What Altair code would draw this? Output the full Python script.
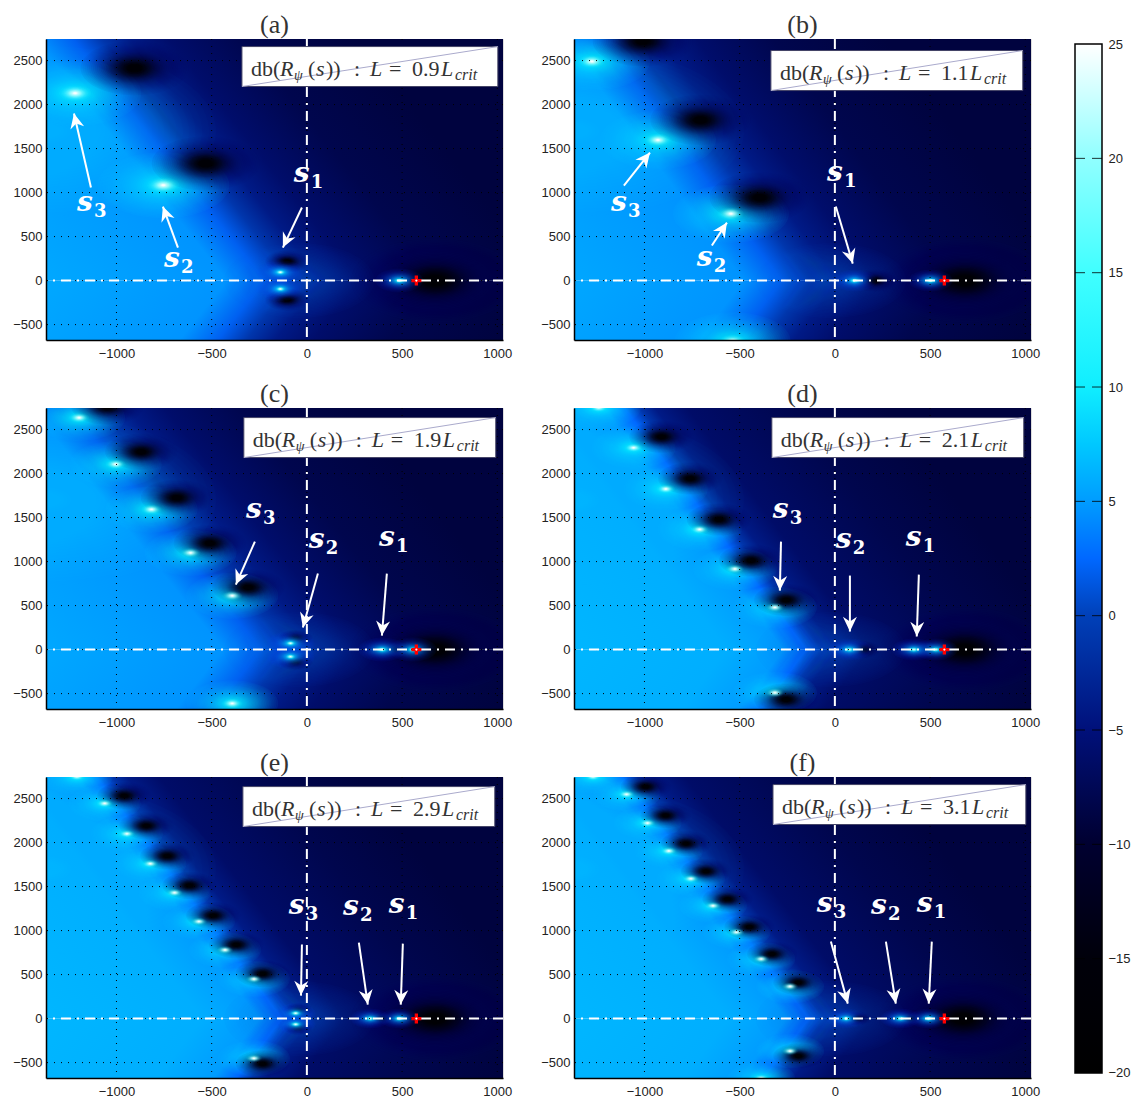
import math
import altair as alt
import pandas as pd

XMIN, XMAX = -1370, 1030
YMIN, YMAX = -675, 2745
PW, PH = 457, 301
PXX, PXY = PW / (XMAX - XMIN), PH / (YMAX - YMIN)
XTICKS = [-1000, -500, 0, 500, 1000]
YTICKS = [-500, 0, 500, 1000, 1500, 2000, 2500]
CROSS_X = 575

CMAP_V = [-20, -15, -10, -5, 0, 2.5, 5, 7.5, 10, 15, 20, 25]
CMAP_C = ["#000000", "#00000a", "#000030", "#00107a", "#0040b8", "#0068ff",
          "#009cff", "#00c8ff", "#10eeff", "#40ffff", "#90ffff", "#ffffff"]
CBAR_TICKS = [-20, -15, -10, -5, 0, 5, 10, 15, 20, 25]

SOFT_D = [-1300, -700, -300, -100, 50, 200, 400, 1300]
SOFT_V = [-9, -8, -6, -4, -1, 2, 4.6, 5.6]
SHARP_D = [-1300, -800, -250, -80, 0, 80, 200, 500, 1300]
SHARP_V = [-9, -8, -6.2, -4, -1, 2.5, 5, 6, 6.5]

TITLES = ["(a)", "(b)", "(c)", "(d)", "(e)", "(f)"]
RATIOS = ["0.9", "1.1", "1.9", "2.1", "2.9", "3.1"]
BOUND_X = [-20, -80, -40, -70, -50, -55]
BOUND_K = [-0.367, -0.345, -0.366, -0.348, -0.355, -0.358]
STOP_SET = ["soft", "soft", "soft", "sharp", "sharp", "sharp"]
GLOW_RX = [66, 58, 46, 42, 36, 34]
CORE_RX = [16, 13, 10, 9, 8, 8]
DARK_RX = [54, 50, 36, 32, 27, 25]
AXIS_DARK_RX = [22, 22, 17, 17, 14, 14]
AXIS_GLOW_RX = [24, 22, 24, 22, 20, 20]
CENTER_X = [-40, -20, -40, -20, -40, -20]

HOT = [
    [(-1217, 2129), (-754, 1084)],
    [(-1276, 2490), (-929, 1597), (-546, 760), (-537, -690)],
    [(-1196, 2635), (-1004, 2106), (-816, 1593), (-611, 1099), (-392, 612), (-392, -612)],
    [(-1240, 2750), (-1057, 2293), (-888, 1825), (-710, 1365), (-525, 916), (-315, 479), (-315, -490)],
    [(-1208, 2750), (-1062, 2445), (-945, 2099), (-822, 1760), (-695, 1430), (-567, 1103), (-430, 780), (-278, 449), (-278, -452)],
    [(-1270, 2750), (-1094, 2548), (-984, 2221), (-872, 1905), (-756, 1589), (-640, 1281), (-517, 981), (-387, 677), (-235, 365), (-235, -369), (-387, -680)],
]
AXIS_HOT = [
    [(-139, 95), (-139, -95), (485, 0)],
    [(103, 0), (503, 0)],
    [(-86, 72), (-86, -80), (396, 0), (556, 0)],
    [(77, 0), (415, 0), (530, 0)],
    [(-59, 61), (-59, -65), (333, 0), (485, 0)],
    [(59, 0), (344, 0), (492, 0)],
]
DARK = [
    [(-905, 2414), (-531, 1331)],
    [(-1009, 2719), (-706, 1825), (-395, 943)],
    [(-1048, 2760), (-870, 2247), (-683, 1726), (-510, 1209), (-308, 707)],
    [(-911, 2418), (-760, 1943), (-609, 1479), (-440, 1011), (-256, 563), (-256, -567)],
    [(-959, 2532), (-843, 2190), (-733, 1848), (-617, 1513), (-492, 1171), (-371, 840), (-232, 510), (-232, -513)],
    [(-993, 2635), (-889, 2308), (-782, 1989), (-677, 1673), (-564, 1357), (-449, 1042), (-330, 734), (-192, 411), (-192, -426)],
]
AXIS_DARK = [
    [(-103, 217), (-103, -217)],
    [(210, 0)],
    [(-59, 129), (-59, -137), (467, 0)],
    [(148, 0), (495, 0)],
    [(-46, 95), (-46, -103), (390, 0)],
    [(118, 0), (396, 0)],
]
POLE_DARK = [(672, 0), (681, 0), (672, 0), (681, 0), (672, 0), (672, 0)]

BOX_X = [(-341, 1003), (-336, 987), (-331, 992), (-331, 992), (-336, 987), (-325, 1003)]
BOX_Y = [(2205, 2659), (2159, 2614), (2182, 2636), (2182, 2636), (2182, 2636), (2205, 2659)]

LABELS = [
    [(-1129, 830), (-672, 193), (10, 1159)],
    [(-1097, 830), (-646, 205), (37, 1170)],
    [(-241, 1534), (89, 1193), (457, 1216)],
    [(-247, 1534), (84, 1193), (451, 1216)],
    [(-16, 1227), (268, 1216), (509, 1239)],
    [(-16, 1250), (268, 1227), (509, 1250)],
]
LABEL_NUM = ["3", "2", "1"]
ARROWS = [
    [(-1134, 1057, -1223, 1898), (-677, 375, -756, 841), (-26, 830, -126, 375)],
    [(-1108, 1080, -971, 1455), (-646, 398, -567, 659), (5, 841, 94, 193)],
    [(-273, 1227, -373, 739), (58, 864, -21, 250), (420, 864, 394, 159)],
    [(-283, 1227, -289, 670), (79, 841, 79, 205), (441, 852, 430, 148)],
    [(-26, 841, -31, 261), (273, 864, 320, 159), (504, 852, 493, 159)],
    [(-21, 875, 68, 170), (268, 875, 320, 170), (509, 875, 493, 170)],
]

LEV_R = [1, .88, .77, .66, .56, .47, .38, .3, .22, .15, .09]
SHADE_T = [.06, .15, .27, .4, .55, .7, .82, .91, .96, .99, 1]
GLOW_T = [.06, .15, .26, .38, .5, .6, .7, .78, .85, .9, .94]
AXGLOW_T = [.05, .12, .2, .3, .4, .5, .6, .7, .8, .88, .94]
CORE_T = [.05, .12, .22, .34, .48, .62, .75, .85, .92, .97, 1]
SHEEN_T = [.02, .05, .08, .11, .14, .17, .2, .23, .26, .29, .32]
CENTER_T = [.03, .07, .12, .17, .22, .27, .32, .37, .42, .47, .5]
SHADE_C = ["#000a60", "#000a58", "#000850", "#000848", "#000640", "#000530", "#000420", "#000310", "#000208", "#000104", "#000000"]
GLOW_C = ["#00d4ff"] * 5 + ["#00dcff", "#00e4ff", "#00ecff", "#10f4ff", "#20faff", "#30ffff"]
SHEEN_C = ["#00e0ff"] * 11
CENTER_C = ["#0060e0"] * 11
AXGLOW_C = ["#0050ff", "#0058ff", "#0060ff", "#0070ff", "#0088ff", "#00a0ff", "#00b8ff", "#00ccff", "#00e0ff", "#10f0ff", "#30ffff"]
CORE_C = ["#60ffff", "#70ffff", "#80ffff", "#90ffff", "#a0ffff", "#b0ffff", "#c0ffff", "#d0ffff", "#e0ffff", "#f0ffff", "#ffffff"]

ELLIPSE = "M-2,0 A2,1 0 1,1 2,0 A2,1 0 1,1 -2,0 Z"
PLUS = "M-0.33,-1 L0.33,-1 L0.33,-0.33 L1,-0.33 L1,0.33 L0.33,0.33 L0.33,1 L-0.33,1 L-0.33,0.33 L-1,0.33 L-1,-0.33 L-0.33,-0.33 Z"
HEAD = "M0,0 L1,2.1 L0,1.45 L-1,2.1 Z"
SANS = "Liberation Sans"
SERIF = "Liberation Serif"
MATH = "DejaVu Serif"
INK = "#333333"

AXX = alt.Axis(values=XTICKS, format="d", grid=False, tickSize=0, labelPadding=7, labelFont=SANS, labelFontSize=13,
               labelColor="#222222", domainColor="#000000", domainWidth=1.5, title=None, zindex=1)
AXY = alt.Axis(values=YTICKS, format="d", grid=False, tickSize=0, labelPadding=4, labelFont=SANS, labelFontSize=13,
               labelColor="#222222", domainColor="#000000", domainWidth=1.5, title=None, zindex=1)


def mix(a, b, t):
    rgb = [round(int(a[j:j + 2], 16) * (1 - t) + int(b[j:j + 2], 16) * t) for j in (1, 3, 5)]
    return "#%02x%02x%02x" % tuple(rgb)


def val2col(v):
    v = max(CMAP_V[0], min(CMAP_V[-1], v))
    for i in range(len(CMAP_V) - 1):
        if v <= CMAP_V[i + 1]:
            return mix(CMAP_C[i], CMAP_C[i + 1], (v - CMAP_V[i]) / (CMAP_V[i + 1] - CMAP_V[i]))
    return CMAP_C[-1]


def tilted(xb, k, upper, ds, vs):
    W = XMAX - XMIN
    if upper:
        H = YMAX
        n = (-W, -k * H)
        c = xb + k * YMAX - XMIN
    else:
        H = -YMIN
        n = (-W, k * H)
        c = xb - XMIN
    N = n[0] ** 2 + n[1] ** 2
    p1 = ((ds[0] - c) * n[0] / N, (ds[0] - c) * n[1] / N)
    p2 = ((ds[-1] - c) * n[0] / N, (ds[-1] - c) * n[1] / N)
    stops = [{"offset": (d - ds[0]) / (ds[-1] - ds[0]), "color": val2col(v)} for d, v in zip(ds, vs)]
    return {"gradient": "linear", "x1": p1[0], "y1": p1[1], "x2": p2[0], "y2": p2[1], "stops": stops}


def X(f="x", **kw):
    return alt.X(f + ":Q", scale=alt.Scale(domain=[XMIN, XMAX], nice=False, zero=False), axis=AXX, **kw)


def Y(f="y", **kw):
    return alt.Y(f + ":Q", scale=alt.Scale(domain=[YMIN, YMAX], nice=False, zero=False), axis=AXY, **kw)


def blobs(points, rx, targets, colors):
    # soft falloff drawn as nested translucent ellipses; the style table is refined so no rings show
    levels = []
    for j in range(len(LEV_R) - 1):
        for f in (0, 1 / 3, 2 / 3):
            levels.append((LEV_R[j] + (LEV_R[j + 1] - LEV_R[j]) * f,
                           targets[j] + (targets[j + 1] - targets[j]) * f,
                           mix(colors[j], colors[j + 1], f)))
    levels.append((LEV_R[-1], targets[-1], colors[-1]))
    rows = []
    for (px, py) in points:
        prev = 0.0
        for r, t, c in levels:
            t = min(t, 0.995)
            a = 1 - (1 - t) / (1 - prev)
            prev = t
            rows.append({"x": px, "y": py, "s": (rx * r) ** 2, "o": a, "c": c})
    df = pd.DataFrame(rows)
    return alt.Chart(df).mark_point(shape=ELLIPSE, filled=True, clip=True, strokeWidth=0).encode(
        x=X(), y=Y(), size=alt.Size("s:Q", scale=None), opacity=alt.Opacity("o:Q", scale=None),
        color=alt.Color("c:N", scale=None), order=alt.Order("s:Q", sort="descending"))


def piece(text, x, y, dx, dy, size, font=SERIF, style="normal", weight="normal", color=INK):
    df = pd.DataFrame({"x": [x], "y": [y], "t": [text]})
    return alt.Chart(df).mark_text(font=font, fontSize=size, fontStyle=style, fontWeight=weight, color=color,
                                   align="left", baseline="alphabetic", dx=dx, dy=dy).encode(
        x=X(), y=Y(), text="t:N")


def panel(i):
    layers = []
    xb, k = BOUND_X[i], BOUND_K[i]
    ds, vs = (SOFT_D, SOFT_V) if STOP_SET[i] == "soft" else (SHARP_D, SHARP_V)
    up = pd.DataFrame({"x": [XMIN], "x2": [XMAX], "y": [0], "y2": [YMAX]})
    lo = pd.DataFrame({"x": [XMIN], "x2": [XMAX], "y": [YMIN], "y2": [0]})
    layers.append(alt.Chart(up).mark_rect(color=tilted(xb, k, True, ds, vs)).encode(
        x=X(), x2="x2:Q", y=Y(), y2="y2:Q"))
    layers.append(alt.Chart(lo).mark_rect(color=tilted(xb, k, False, ds, vs)).encode(
        x=X(), x2="x2:Q", y=Y(), y2="y2:Q"))
    layers.append(blobs([(XMIN, 1700)], 170, SHEEN_T, SHEEN_C))
    layers.append(blobs([(CENTER_X[i], 0)], 75, CENTER_T, CENTER_C))
    layers.append(blobs([POLE_DARK[i]], 84, SHADE_T, SHADE_C))
    layers.append(blobs(HOT[i], GLOW_RX[i], GLOW_T, GLOW_C))
    layers.append(blobs(DARK[i], DARK_RX[i], SHADE_T, SHADE_C))
    layers.append(blobs(AXIS_DARK[i], AXIS_DARK_RX[i], SHADE_T, SHADE_C))
    layers.append(blobs(AXIS_HOT[i], AXIS_GLOW_RX[i], AXGLOW_T, AXGLOW_C))
    layers.append(blobs(HOT[i], CORE_RX[i], CORE_T, CORE_C))
    layers.append(blobs(AXIS_HOT[i], 5, CORE_T, CORE_C))
    gx = pd.DataFrame({"x": XTICKS})
    gy = pd.DataFrame({"y": YTICKS})
    layers.append(alt.Chart(gx).mark_rule(color="#000000", strokeDash=[1, 6], strokeWidth=1).encode(x=X()))
    layers.append(alt.Chart(gy).mark_rule(color="#000000", strokeDash=[1, 6], strokeWidth=1).encode(y=Y()))
    layers.append(alt.Chart(pd.DataFrame({"x": [0]})).mark_rule(color="#ffffff", strokeWidth=2, strokeDash=[10, 6, 2, 6]).encode(x=X()))
    layers.append(alt.Chart(pd.DataFrame({"y": [0]})).mark_rule(color="#ffffff", strokeWidth=2, strokeDash=[10, 6, 2, 6]).encode(y=Y()))
    mk = pd.DataFrame({"x": [CROSS_X], "y": [0]})
    layers.append(alt.Chart(mk).mark_point(shape=PLUS, filled=True, color="#ff0000", opacity=1, size=100, strokeWidth=0).encode(x=X(), y=Y()))
    layers.append(alt.Chart(mk).mark_point(shape="circle", filled=True, color="#ffffff", opacity=1, size=5, strokeWidth=0).encode(x=X(), y=Y()))
    rows = []
    for a in ARROWS[i]:
        dxp = (a[2] - a[0]) * PXX
        dyp = -(a[3] - a[1]) * PXY
        rows.append({"x": a[0], "y": a[1], "x2": a[2], "y2": a[3],
                     "ang": (math.degrees(math.atan2(dxp, -dyp)) + 360) % 360})
    ar = pd.DataFrame(rows)
    layers.append(alt.Chart(ar).mark_rule(color="#ffffff", strokeWidth=2).encode(x=X(), y=Y(), x2="x2:Q", y2="y2:Q"))
    layers.append(alt.Chart(ar).mark_point(shape=HEAD, filled=True, color="#ffffff", opacity=1, size=196, strokeWidth=0).encode(
        x=X("x2"), y=Y("y2"), angle=alt.Angle("ang:Q", scale=None)))
    bx0, bx1 = BOX_X[i]
    by0, by1 = BOX_Y[i]
    bdf = pd.DataFrame({"x": [bx0], "x2": [bx1], "y": [by0], "y2": [by1]})
    layers.append(alt.Chart(bdf).mark_rect(color="#ffffff", stroke="#444466", strokeWidth=1).encode(
        x=X(), x2="x2:Q", y=Y(), y2="y2:Q"))
    layers.append(alt.Chart(bdf).mark_rule(color="#aaaacc", strokeWidth=1).encode(
        x=X(), x2="x2:Q", y=Y(), y2="y2:Q"))
    S = 22
    for t, dx, dy, sz, st in [("db(", 9, -11, S, "normal"), ("R", 38, -11, S, "italic"), ("\u03c8", 52, -7, 14, "italic"),
                              ("(", 66, -11, S, "normal"), ("s", 74, -11, S, "italic"), ("))", 84, -11, S, "normal"),
                              (":", 112, -11, S, "normal"), ("L", 128, -11, S, "italic"), ("=", 147, -11, S, "normal"),
                              (RATIOS[i], 170, -11, S, "normal"), ("L", 199, -11, S, "italic"), ("crit", 213, -7, 16, "italic")]:
        layers.append(piece(t, bx0, by0, dx, dy, sz, style=st))
    for (lx, ly), n in zip(LABELS[i], LABEL_NUM):
        layers.append(piece("s", lx, ly, -15, 3, 28, font=MATH, style="italic", weight="bold", color="#ffffff"))
        layers.append(piece(n, lx, ly, 2, 9, 18, font=MATH, weight="bold", color="#ffffff"))
    return alt.layer(*layers).properties(
        width=PW, height=PH,
        title=alt.TitleParams(TITLES[i], font=SERIF, fontSize=26, fontWeight="normal", color=INK, anchor="middle", offset=0))


def colorbar():
    span = CMAP_V[-1] - CMAP_V[0]
    stops = [{"offset": (CMAP_V[-1] - v) / span, "color": c} for v, c in zip(reversed(CMAP_V), reversed(CMAP_C))]
    grad = {"gradient": "linear", "x1": 0, "y1": 0, "x2": 0, "y2": 1, "stops": stops}
    sc = alt.Scale(domain=[-20.175, 25.22], nice=False, zero=False)
    base = pd.DataFrame({"lo": [CMAP_V[0]], "hi": [CMAP_V[-1]]})
    cax = alt.Axis(orient="right", values=CBAR_TICKS, domain=False, ticks=False, grid=False,
                   labelPadding=6, labelFont=SANS, labelFontSize=13, labelColor="#222222", title=None)
    rect = alt.Chart(base).mark_rect(color=grad, stroke="#000000", strokeWidth=1.5).encode(
        x=alt.value(0), x2=alt.value(27), y=alt.Y("lo:Q", scale=sc, axis=cax), y2="hi:Q")
    tk = pd.DataFrame({"v": CBAR_TICKS[1:-1]})
    t1 = alt.Chart(tk).mark_rule(color="#000000", opacity=0.8).encode(x=alt.value(0), x2=alt.value(10), y=alt.Y("v:Q", scale=sc, axis=cax))
    t2 = alt.Chart(tk).mark_rule(color="#000000", opacity=0.8).encode(x=alt.value(17), x2=alt.value(27), y=alt.Y("v:Q", scale=sc, axis=cax))
    return alt.layer(rect, t1, t2).properties(width=27, height=1038, view=alt.ViewConfig(stroke=None))


rows = [alt.hconcat(panel(j), panel(j + 1), spacing=27) for j in (0, 2, 4)]
grid = alt.vconcat(*rows, spacing=19)
chart = alt.hconcat(grid, colorbar(), spacing=33).properties(padding={"left": 4, "top": 3, "right": 0, "bottom": 2})
chart = chart.configure_view(stroke="#222222", strokeWidth=1).configure(background="#ffffff")
chart.save("out.html", embed_options={"renderer": "svg", "actions": False})
